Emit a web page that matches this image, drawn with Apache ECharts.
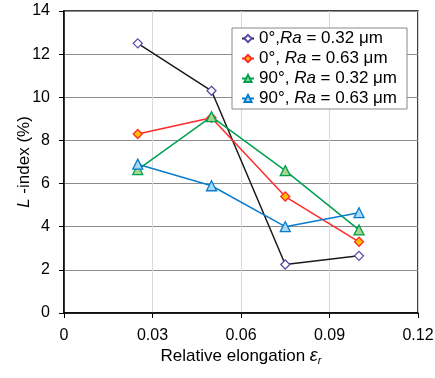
<!DOCTYPE html>
<html><head><meta charset="utf-8">
<script src="https://cdn.jsdelivr.net/npm/echarts@6/dist/echarts.min.js"></script>
<style>html,body{margin:0;padding:0;background:#fff}#c{width:435px;height:378px}</style>
</head><body><div id="c"></div>
<script>
const elongation = [0.025, 0.05, 0.075, 0.1];
const s0_032 = [12.5, 10.3, 2.25, 2.65];
const s0_063 = [8.3, 9.05, 5.4, 3.3];
const s90_032 = [6.65, 9.1, 6.6, 3.85];
const s90_063 = [6.9, 5.9, 4.0, 4.65];
const seriesNames = ['0°,Ra = 0.32 μm', '0°, Ra = 0.63 μm', '90°, Ra = 0.32 μm', '90°, Ra = 0.63 μm'];
const legendRich = [
  '{n|0°,}{i|Ra}{n| = 0.32 μm}',
  '{n|0°, }{i|Ra}{n| = 0.63 μm}',
  '{n|90°, }{i|Ra}{n| = 0.32 μm}',
  '{n|90°, }{i|Ra}{n| = 0.63 μm}'
];
const font = 'Liberation Sans, Arial, sans-serif';
function pairs(vals){ return elongation.map((x,i)=>[x, vals[i]]); }
const chart = echarts.init(document.getElementById('c'));
chart.setOption({
  animation: false,
  grid: {left: 64, right: 17, top: 11, bottom: 65, outerBoundsMode: 'none', containLabel: false,
         show: true, borderColor: '#000', borderWidth: 1.5, backgroundColor: 'transparent'},
  legend: {
    left: 232, top: 28, orient: 'vertical',
    backgroundColor: '#fff', borderColor: '#888', borderWidth: 1,
    padding: [2, 10, 2, 9], itemGap: 3, itemWidth: 12, itemHeight: 9,
    data: seriesNames,
    formatter: function(name){ return legendRich[seriesNames.indexOf(name)]; },
    textStyle: {
      fontFamily: font, fontSize: 17, color: '#000',
      rich: {n: {fontFamily: font, fontSize: 17, color: '#000'}, i: {fontFamily: font, fontSize: 17, color: '#000', fontStyle: 'italic'}}
    }
  },
  xAxis: {
    type: 'value', min: 0, max: 0.12, interval: 0.03,
    name: '{n|Relative elongation }{e|ε}{s|r}', nameLocation: 'middle', nameGap: 33, nameMoveOverlap: false,
    nameTextStyle: {fontFamily: font, fontSize: 17, color: '#000',
      rich: {n: {fontFamily: font, fontSize: 17, color: '#000'},
             e: {fontFamily: font, fontSize: 18, color: '#000', fontStyle: 'italic'},
             s: {fontFamily: font, fontSize: 11, color: '#000', fontStyle: 'italic', padding: [9, 0, 0, 0]}}},
    axisLine: {show: true, lineStyle: {color: '#000', width: 1.5}},
    axisTick: {show: true, length: 5, lineStyle: {color: '#000'}},
    axisLabel: {fontFamily: font, fontSize: 16, color: '#000', margin: 15,
      formatter: v => v === 0 ? '0' : v.toFixed(2)},
    splitLine: {show: true, lineStyle: {color: '#d9d9d9', width: 1}}
  },
  yAxis: {
    type: 'value', min: 0, max: 14, interval: 2,
    name: '{i|L}{n| -index (%)}', nameLocation: 'middle', nameGap: 31, nameRotate: 90, nameMoveOverlap: false,
    nameTextStyle: {fontFamily: font, fontSize: 17, color: '#000',
      rich: {n: {fontFamily: font, fontSize: 17, color: '#000'}, i: {fontFamily: font, fontSize: 17, color: '#000', fontStyle: 'italic'}}},
    axisLine: {show: true, lineStyle: {color: '#000', width: 1.5}},
    axisTick: {show: true, length: 5, lineStyle: {color: '#000'}},
    axisLabel: {fontFamily: font, fontSize: 16, color: '#000', margin: 14},
    splitLine: {show: true, lineStyle: {color: '#8c8c8c', width: 1}}
  },
  series: [
    {name: seriesNames[0], type: 'line', data: pairs(s0_032), symbol: 'diamond', symbolSize: 9,
     lineStyle: {color: '#1a1a1a', width: 1.5}, itemStyle: {color: '#fff', borderColor: '#5b4aa8', borderWidth: 1.3}},
    {name: seriesNames[1], type: 'line', data: pairs(s0_063), symbol: 'diamond', symbolSize: 9,
     lineStyle: {color: '#ff2a2a', width: 1.5}, itemStyle: {color: '#ffc000', borderColor: '#ff2a2a', borderWidth: 1.3}},
    {name: seriesNames[2], type: 'line', data: pairs(s90_032), symbol: 'triangle', symbolSize: 10,
     lineStyle: {color: '#00a050', width: 1.5}, itemStyle: {color: '#a6d68e', borderColor: '#00a050', borderWidth: 1.3}},
    {name: seriesNames[3], type: 'line', data: pairs(s90_063), symbol: 'triangle', symbolSize: 10,
     lineStyle: {color: '#0a7ccc', width: 1.5}, itemStyle: {color: '#a8d8f4', borderColor: '#0a7ccc', borderWidth: 1.3}}
  ]
});
</script></body></html>
